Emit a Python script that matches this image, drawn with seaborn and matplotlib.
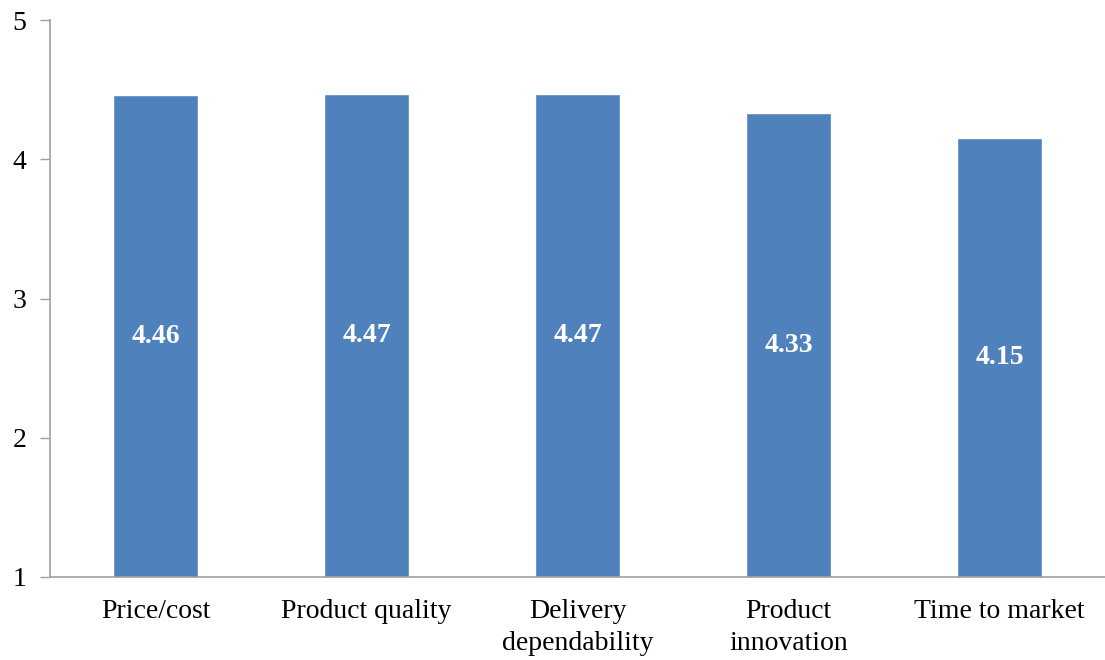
import matplotlib
matplotlib.use("Agg")
import matplotlib.pyplot as plt
import seaborn as sns
import pandas as pd

categories = ["Price/cost", "Product quality", "Delivery\ndependability", "Product\ninnovation", "Time to market"]
values = [4.46, 4.47, 4.47, 4.33, 4.15]
yticks = [1, 2, 3, 4, 5]

sns.set_theme(style="white")
plt.rcParams['font.family'] = ['Liberation Serif', 'DejaVu Serif']

df = pd.DataFrame({"cat": categories, "val": values})

fig = plt.figure(figsize=(11.05, 6.6), dpi=100)
ax = fig.add_axes([50/1105, 83/660, 1055/1105, 557/660])
sns.barplot(data=df, x="cat", y="val", color="#4F81BD", width=0.4, saturation=1, ax=ax)
ax.set_ylim(1, 5)
ax.set_xlim(-0.5, len(categories) - 0.5)
ax.set_yticks(yticks)
ax.set_yticklabels([str(t) for t in yticks], fontsize=20, color="black")
ax.set_xlabel("")
ax.set_ylabel("")
ax.tick_params(axis="x", length=0, labelsize=20, pad=16, labelcolor="black")
ax.tick_params(axis="y", length=7, width=1, color="#A0A0A0", pad=10, left=True)
for lbl in ax.get_xticklabels():
    lbl.set_linespacing(1.35)
for s in ["top", "right"]:
    ax.spines[s].set_visible(False)
for s in ["left", "bottom"]:
    ax.spines[s].set_color("#A0A0A0")
    ax.spines[s].set_linewidth(1.2)

for p, v in zip(ax.patches, values):
    x = p.get_x() + p.get_width() / 2
    y = (1 + v) / 2
    ax.text(x, y, f"{v:.2f}", ha="center", va="center", color="white",
            fontsize=20, fontweight="bold")

fig.savefig("out.png", dpi=100)
